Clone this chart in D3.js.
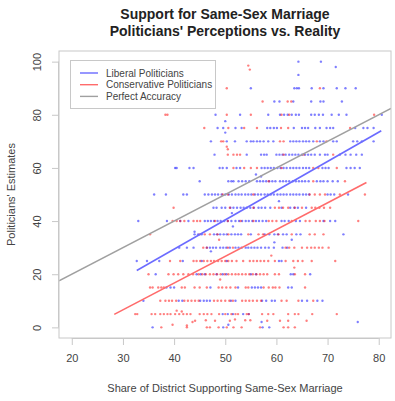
<!DOCTYPE html>
<html>
<head>
<meta charset="utf-8">
<script src="https://cdn.jsdelivr.net/npm/d3@7"></script>
<style>
  body { margin: 0; background: #fff; }
  text { font-family: "Liberation Sans", Arial, sans-serif; }
</style>
</head>
<body>
<div id="chart"></div>
<script>
// estimate level -> district support values
const liberalRows = [
  [100, [64.3, 68.7]],
  [95, [64.3]],
  [90, [55, 63.5, 64, 64.4, 66.9, 69.2, 71.8, 73.5, 75.5]],
  [85, [59.6, 60.6, 63.3, 66.8, 68.6, 69.2, 72.8]],
  [80, [48.1, 52.9, 58.4, 60.7, 61.5, 62.2, 63, 63.8, 64.4, 66.8, 67.5, 68.3, 69.1, 70.8, 72.2, 73.7, 80.6]],
  [75, [48.5, 49.6, 52, 53.2, 58.2, 58.8, 59.5, 60.1, 63.4, 65, 65.6, 66.2, 67.6, 68.5, 69.8, 70.5, 71.1, 75.4, 77, 77.8, 79]],
  [70, [47.2, 50.3, 51.9, 54.2, 55, 55.5, 56.2, 56.8, 57.5, 58.4, 59.4, 62.7, 63.3, 63.9, 64.5, 65.2, 65.8, 66.4, 67.2, 68.5, 69.2, 71.1, 71.8, 75, 75.8, 76.7, 79]],
  [65, [47.9, 54.2, 57, 57.6, 58.1, 60, 60.6, 61.2, 61.8, 62.5, 63.1, 63.7, 64.3, 65, 65.6, 66.2, 66.8, 67.5, 68.5, 69.5, 70, 72.4, 73.5, 74.5, 75.6, 76.7]],
  [60, [40.2, 40.5, 43, 43.8, 48.9, 49.5, 50.3, 52.2, 52.9, 57.1, 57.7, 58.3, 58.9, 59.5, 60.2, 60.8, 61.4, 62, 62.7, 63.3, 63.9, 64.5, 65.2, 65.8, 66.4, 69, 69.6, 70.2, 73.7, 74.5, 75.3, 76.3]],
  [55, [45, 50.6, 51.2, 51.6, 52.6, 53.3, 54, 54.7, 56.2, 56.8, 57.4, 58, 58.6, 59.2, 59.8, 60.7, 61.3, 61.9, 62.5, 63.2, 63.8, 64.4, 65, 65.6, 66.3, 67.9, 68.6, 69.2, 70, 71, 72]],
  [50, [36.1, 38.4, 41.8, 42.5, 46, 46.7, 47.4, 48, 48.6, 49.3, 50, 50.7, 51.3, 52, 52.6, 53.2, 53.9, 54.5, 55.1, 55.8, 56.4, 57, 57.7, 58.3, 58.9, 59.5, 60.2, 60.8, 61.4, 62, 62.7, 63.3, 63.9, 64.5, 65.2, 65.8, 66.4, 70, 70.6, 71.3, 74]],
  [45, [47.7, 48.3, 49.3, 50, 51, 51.6, 52.3, 53, 53.6, 54.2, 54.9, 55.6, 56.5, 57.1, 57.8, 58.8, 61, 62.7, 63.5, 64.2, 65.8]],
  [40, [33, 38.6, 41.2, 42.8, 46, 46.6, 47.2, 47.8, 48.5, 49.1, 49.8, 50.5, 51.2, 52, 52.7, 53.3, 54, 54.6, 55.3, 56, 56.6, 57.3, 58, 61, 61.6, 62.4, 63.8, 64.6, 69.2, 70.5, 71.5]],
  [35, [44, 44.7, 45.4, 47.8, 48.4, 49, 49.7, 50.3, 51.2, 51.9, 52.5, 53.1, 55, 57.7, 58.6, 59.6, 60.3, 61.3, 62, 63.9, 64.7, 73.1]],
  [30, [41, 42.5, 43.8, 46.4, 47, 47.6, 48.2, 49, 49.6, 50.2, 50.9, 52, 52.6, 53.2, 54, 54.5, 55.1, 55.7, 56.3, 57, 57.8, 58.5, 59.5, 61.2, 62.1]],
  [25, [32.7, 34.7, 37.1, 41.7, 45.4, 50.3, 60.5, 61]],
  [20, [36.4, 44.4, 45.2, 46, 48.3, 49.5, 50.2, 55, 56, 62.8, 63.3, 66.6]],
  [15, [38.5, 39.3, 40, 47.1, 52.5, 55.2, 55.8, 56.4, 57, 62.3, 63]],
  [10, [34, 40.9, 41.6, 45.1, 45.8, 46.4, 47, 51.1, 52, 57.2, 58, 59.1, 59.7, 65, 66, 68, 69]],
  [5, [49.5, 50.5, 51.5, 53.5, 54.6]],
  [0, [35.8, 49.6, 57.3, 58.6]]
];
const liberalExtra = [[71.6, 98], [50, 73.3], [50, 77.6], [47.2, 28.6], [44, 36], [51.3, 43], [51.5, 38],
  [57.1, 2], [75.9, 2], [50.6, 1], [56, 57.5], [57, 56.8], [60.5, 47.5], [63, 33], [59.6, 32]];

const conservativeRows = [
  [90, [50.3, 68.5]],
  [85, [57.3, 62.2, 62.9]],
  [80, [38.3, 38.7, 50.3, 55, 61, 62.5, 79.1]],
  [75, [45.9, 50.6, 53.7, 56.2, 60.9, 62.3, 74.4]],
  [70, [49.2, 49.6, 60.7, 61.4, 67.9, 69.8]],
  [65, [50.5, 51.6, 52.3, 52.9, 61.4, 65.3, 71.1]],
  [60, [51.6, 53.7, 55, 56.2, 61, 67.2, 68.2, 71.8]],
  [55, [58.5, 67.2, 73.4]],
  [50, [49.5, 50.5, 55.5, 66.5, 67.5, 68.5, 69.5, 72.4, 77.3]],
  [45, [39.9, 50.9, 55.5, 59.7, 60.5, 61.3, 62.3, 63.6, 65, 66.9, 67.6, 68.4, 69.3, 70.5]],
  [40, [39.7, 40.5, 41.2, 42, 43.8, 44.5, 45.1, 48, 50.5, 53, 55.5, 58.5, 59.2, 60, 63, 65.7, 66.5, 67.7, 68.5, 69.4, 76]],
  [35, [35.3, 45, 46, 47, 48.5, 50.6, 54.5, 56.5, 57.4, 60.4, 63, 66.5, 67.5, 69.2]],
  [30, [45.7, 46.4, 50.5, 51.5, 61.8, 62.5, 63.5, 65, 66, 66.8, 67.5, 68.3, 69, 70.2]],
  [25, [39.2, 41.2, 43.8, 44.4, 45.1, 45.8, 46.5, 47.2, 47.8, 48.6, 49.3, 50, 50.6, 51.3, 52.2, 53.5, 54.8, 55.5, 56.2, 56.9, 57.6, 58.4, 59.7, 61.8, 63.3, 64.2, 65.1, 66.9, 71.5]],
  [20, [35, 38.9, 39.9, 40.8, 41.8, 42.8, 43.7, 44.8, 45.5, 46.2, 47, 47.7, 48.4, 49.1, 49.9, 50.6, 51.3, 52, 52.6, 53.3, 54, 54.7, 55.4, 56.1, 56.8, 57.5, 58.2, 59.7, 60.5, 63.6, 65.6]],
  [15, [35.3, 35.8, 36.9, 37.5, 38, 41.5, 42.1, 44, 45, 46.4, 48.7, 49.4, 50.2, 51, 52, 54, 54.5, 57.5, 58.5, 59.3, 59.8, 60.6, 65.6]],
  [10, [37.3, 38.3, 39, 39.6, 40.4, 42, 42.7, 43.4, 44.1, 44.8, 47.8, 48.5, 49.2, 50, 50.8, 51.5, 53.3, 54, 54.7, 55.4, 56.2, 57, 61, 62, 64.3, 67.2]],
  [5, [32.4, 32.8, 35.6, 36.3, 37.3, 38, 38.7, 39.3, 40.2, 41, 41.8, 42.5, 43.2, 45, 45.8, 46.5, 47.3, 48.8, 50, 51.2, 52, 52.5, 54.2, 54.6, 57.2, 58.4, 59.4, 62.3, 63.6, 64.3, 67, 71.8]],
  [0, [37.5, 42.5, 46.4, 47, 48.7, 50.3, 51.6, 53.2, 56.8, 61.4, 62.3, 63.6]]
];
const conservativeExtra = [[54.5, 98.5], [54.8, 97], [50.5, 67], [50.3, 68], [40.5, 6.3], [41.5, 6], [39.7, 1],
  [42.5, 0.7], [43.6, 2], [44.1, 2.5], [46.2, 2.7], [48, 2.5], [50.9, 2.5], [51.9, 3], [53.9, 2.7], [54.9, 2.7],
  [58.2, 2.5], [60.7, 2.5], [62.3, 2.5], [65.9, 2.5], [49, 18], [59, 27], [48.8, 33], [63.5, 22.5]];

// fitted lines (start/end points)
const liberalFit = [[32.7, 21.4], [80.5, 74]];
const conservativeFit = [[28.3, 4.9], [77.6, 54.5]];
const accuracyLine = [[17.5, 17.5], [82.4, 82.4]];

const xTicks = [20, 30, 40, 50, 60, 70, 80];
const yTicks = [0, 20, 40, 60, 80, 100];
const legendItems = [
  {label: "Liberal Politicians", color: "#6b6bff"},
  {label: "Conservative Politicians", color: "#ff6b6b"},
  {label: "Perfect Accuracy", color: "#a0a0a0"}
];

function flatten(rows, extra) {
  var pts = [];
  rows.forEach(function(r) { r[1].forEach(function(v) { pts.push([v, r[0]]); }); });
  return pts.concat(extra);
}
var liberal = flatten(liberalRows, liberalExtra);
var conservative = flatten(conservativeRows, conservativeExtra);

var W = 395, H = 401;
var m = {left: 59, right: 391, top: 51, bottom: 338};

var svg = d3.select("#chart").append("svg")
  .attr("width", W).attr("height", H);

var x = d3.scaleLinear().domain([17.5, 82.4]).range([m.left, m.right]);
var y = d3.scaleLinear().domain([-4, 104]).range([m.bottom, m.top]);

svg.append("defs").append("clipPath").attr("id", "clip")
  .append("rect").attr("x", m.left).attr("y", m.top)
  .attr("width", m.right - m.left).attr("height", m.bottom - m.top);

var body = svg.append("g").attr("clip-path", "url(#clip)");

// points
body.selectAll("circle.lib").data(liberal).enter().append("circle")
  .attr("class", "lib")
  .attr("cx", d => x(d[0])).attr("cy", d => y(d[1]))
  .attr("r", 1.2).attr("fill", "#0000ff").attr("fill-opacity", 0.5);

body.selectAll("circle.con").data(conservative).enter().append("circle")
  .attr("class", "con")
  .attr("cx", d => x(d[0])).attr("cy", d => y(d[1]))
  .attr("r", 1.2).attr("fill", "#ff0000").attr("fill-opacity", 0.5);

var line = d3.line().x(d => x(d[0])).y(d => y(d[1]));
body.append("path").attr("d", line(accuracyLine))
  .attr("stroke", "#a0a0a0").attr("stroke-width", 1.6).attr("fill", "none");
body.append("path").attr("d", line(liberalFit))
  .attr("stroke", "#6b6bff").attr("stroke-width", 1.6).attr("fill", "none");
body.append("path").attr("d", line(conservativeFit))
  .attr("stroke", "#ff6b6b").attr("stroke-width", 1.6).attr("fill", "none");

// box
svg.append("rect").attr("x", m.left).attr("y", m.top)
  .attr("width", m.right - m.left).attr("height", m.bottom - m.top)
  .attr("fill", "none").attr("stroke", "#c8c8c8");

// axes
var xAxis = d3.axisBottom(x).tickValues(xTicks).tickSize(7).tickPadding(6).tickSizeOuter(0);
var gX = svg.append("g").attr("transform", "translate(0," + m.bottom + ")").call(xAxis);
var yAxis = d3.axisLeft(y).tickValues(yTicks).tickSize(7).tickPadding(6).tickSizeOuter(0);
var gY = svg.append("g").attr("transform", "translate(" + m.left + ",0)").call(yAxis);

[gX, gY].forEach(function(g) {
  g.select(".domain").attr("stroke", "#c8c8c8");
  g.selectAll(".tick line").attr("stroke", "#c8c8c8");
  g.selectAll(".tick text").attr("fill", "#444").style("font-size", "11px")
    .style("font-family", "'Liberation Sans', Arial, sans-serif");
});
// R-style: axis line only between first and last ticks
gX.select(".domain").attr("d", "M" + x(20) + ",0.5H" + x(80));
gY.select(".domain").attr("d", "M-0.5," + y(0) + "V" + y(100));
gX.selectAll(".tick text").attr("dy", "1em");
// y labels rotated like R's default
gY.selectAll(".tick text")
  .attr("text-anchor", "middle").attr("x", 0).attr("y", 0).attr("dy", 0)
  .attr("transform", "translate(-18,0) rotate(-90)");

// titles
var cx = (m.left + m.right) / 2;
svg.append("text").attr("x", cx).attr("y", 19).attr("text-anchor", "middle")
  .style("font-size", "14px").style("font-weight", "bold").attr("fill", "#222")
  .text("Support for Same-Sex Marriage");
svg.append("text").attr("x", cx).attr("y", 36).attr("text-anchor", "middle")
  .style("font-size", "14px").style("font-weight", "bold").attr("fill", "#222")
  .text("Politicians' Perceptions vs. Reality");

svg.append("text").attr("x", cx).attr("y", 392).attr("text-anchor", "middle")
  .style("font-size", "11px").attr("fill", "#444")
  .text("Share of District Supporting Same-Sex Marriage");
svg.append("text").attr("transform", "translate(15," + ((m.top + m.bottom) / 2) + ") rotate(-90)")
  .attr("text-anchor", "middle")
  .style("font-size", "11px").attr("fill", "#444")
  .text("Politicians' Estimates");

// legend
var lg = svg.append("g");
lg.append("rect").attr("x", 70.5).attr("y", 60.5).attr("width", 145).attr("height", 48)
  .attr("fill", "#fff").attr("stroke", "#c8c8c8");
legendItems.forEach(function(it, i) {
  var ly = 73 + i * 11.7;
  lg.append("line").attr("x1", 80).attr("x2", 98).attr("y1", ly).attr("y2", ly)
    .attr("stroke", it.color).attr("stroke-width", 1.4);
  lg.append("text").attr("x", 106).attr("y", ly + 3.5)
    .style("font-size", "10px").attr("fill", "#444").text(it.label);
});
</script>
</body>
</html>
